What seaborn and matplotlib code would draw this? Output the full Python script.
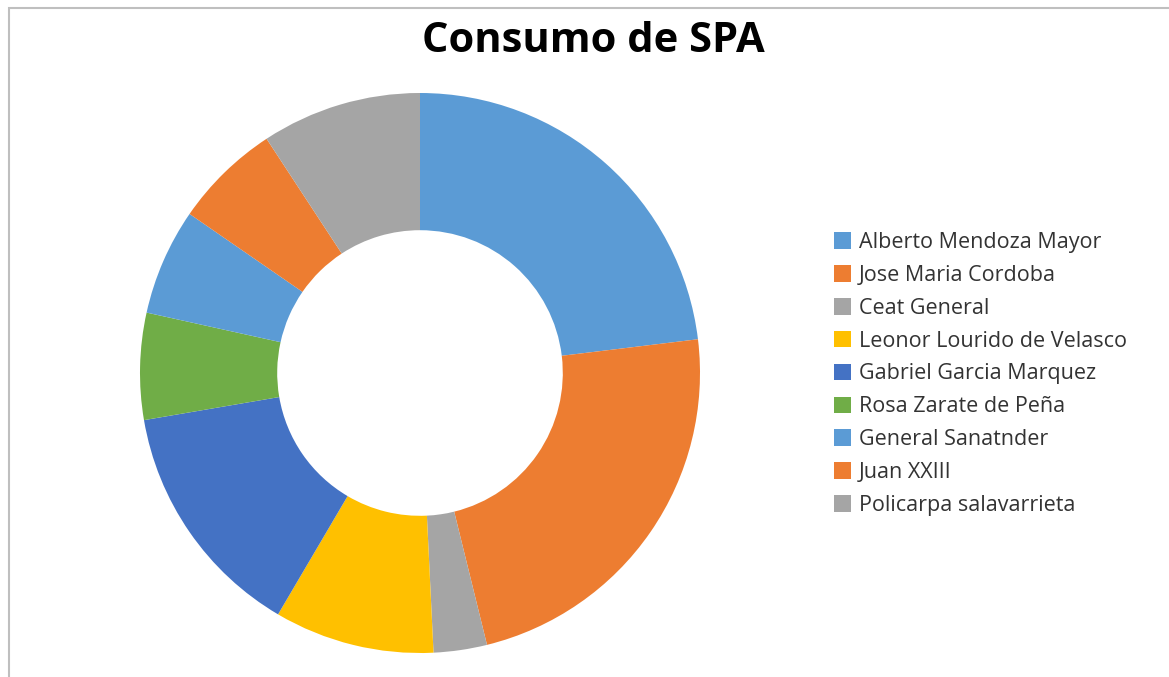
import matplotlib.pyplot as plt
import matplotlib.patches as mpatches
import seaborn as sns

# Data
colegios = [
    'Alberto Mendoza Mayor', 'Jose Maria Cordoba', 'Ceat General',
    'Leonor Lourido de Velasco', 'Gabriel Garcia Marquez', 'Rosa Zarate de Peña',
    'General Sanatnder', 'Juan XXIII', 'Policarpa salavarrieta'
]
consumo = [15, 15, 2, 6, 9, 4, 4, 4, 6]
colores = ['#5B9BD5', '#ED7D31', '#A5A5A5', '#FFC000', '#4472C4',
           '#70AD47', '#5B9BD5', '#ED7D31', '#A5A5A5']

sns.set_theme(style="white")
plt.rcParams['font.family'] = ['Open Sans', 'DejaVu Sans']

fig = plt.figure(figsize=(11.69, 6.77), dpi=100)

# chart border (Excel style)
fig.patches.append(mpatches.Rectangle((9 / 1169, -0.05), 1.2, 1 - 8 / 677 + 0.05,
                                      transform=fig.transFigure, fill=False,
                                      edgecolor='#BFBFBF', linewidth=1.5))

ax = fig.add_axes([140 / 1169, 24 / 677, 560 / 1169, 560 / 677])
wedges, _ = ax.pie(consumo, colors=sns.color_palette(colores), startangle=90,
                   counterclock=False, radius=1,
                   wedgeprops=dict(width=0.49, linewidth=0))
ax.set_xlim(-1, 1)
ax.set_ylim(-1, 1)
ax.set_aspect('equal')

fig.text(593 / 1169, 1 - 41 / 677, 'Consumo de SPA', ha='center', va='center',
         fontsize=30, fontweight='bold', color='black')

fig.legend(wedges, colegios, loc='center left',
           bbox_to_anchor=(823 / 1169, 1 - 374 / 677), frameon=False,
           fontsize=15.5, labelcolor='#333333', handlelength=0.8, handleheight=0.8,
           handletextpad=0.35, labelspacing=0.55, borderpad=0)

fig.savefig('out.png', dpi=100)
